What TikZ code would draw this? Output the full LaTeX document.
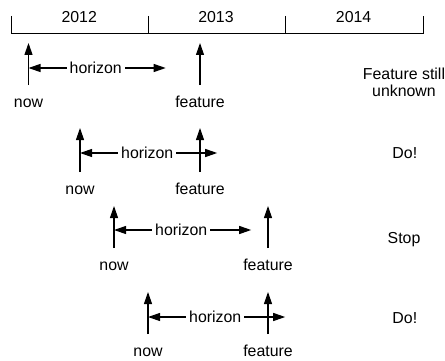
\documentclass[tikz,border=0pt]{standalone}
\usepackage{fontspec}
\setmainfont{Liberation Sans}
\usetikzlibrary{arrows.meta}

\tikzset{
  uptip/.style={-{Triangle[length=3mm,width=2mm]}, line width=0.8pt},
  horizonspan/.style={{Triangle[length=3mm,width=2mm]}-{Triangle[length=3mm,width=2mm]}, line width=0.8pt},
  tag/.style={anchor=base, inner sep=0pt, text height=8pt, outer ysep=7.6pt},
  horizontext/.style={fill=white, inner xsep=2pt, inner ysep=1pt, pos=0.49},
  verdict/.style={align=center, font=\fontsize{11.3}{12.1}\selectfont}
}

\begin{document}
\begin{tikzpicture}[font=\fontsize{11.3}{13.6}\selectfont]
  \useasboundingbox (0,0) rectangle (11.125,9);
  % years
  \draw[line width=0.7pt] (0.29,8.6) -- (0.29,8.175) -- (10.58,8.175) -- (10.58,8.6);
  \draw[line width=0.7pt] (3.71,8.6) -- (3.71,8.175);
  \draw[line width=0.7pt] (7.14,8.6) -- (7.14,8.175);
  \node (y2012) at (1.98,8.5625) {2012};
  \node (y2013) at (5.40,8.5625) {2013};
  \node (y2014) at (8.84,8.5625) {2014};

  % feature still unknown
  \node[tag] (now1) at (0.7125,6.325) {now};
  \node[tag] (feat1) at (5.0,6.325) {feature};
  \coordinate (now1t) at (0.7125,7.925);
  \coordinate (feat1t) at (5.0,7.925);
  \coordinate (hs1) at (0.7125,7.3);
  \coordinate (he1) at (4.1425,7.3);
  \draw[horizonspan] (hs1) -- node[horizontext] (hz1) {horizon} (he1);
  \draw[uptip] (now1) -- (now1t);
  \draw[uptip] (feat1) -- (feat1t);
  \node[verdict] (v1) at (10.1,6.95) {Feature still\\unknown};

  % do
  \node[tag] (now2) at (2.0,4.15) {now};
  \node[tag] (feat2) at (5.0,4.15) {feature};
  \coordinate (now2t) at (2.0,5.8);
  \coordinate (feat2t) at (5.0,5.8);
  \coordinate (hs2) at (2.0,5.175);
  \coordinate (he2) at (5.43,5.175);
  \draw[horizonspan] (hs2) -- node[horizontext] (hz2) {horizon} (he2);
  \draw[uptip] (now2) -- (now2t);
  \draw[uptip] (feat2) -- (feat2t);
  \node[verdict] (v2) at (10.12,5.16) {Do!};

  % stop
  \node[tag] (now3) at (2.85,2.25) {now};
  \node[tag] (feat3) at (6.7,2.25) {feature};
  \coordinate (now3t) at (2.85,3.85);
  \coordinate (feat3t) at (6.7,3.85);
  \coordinate (hs3) at (2.85,3.25);
  \coordinate (he3) at (6.28,3.25);
  \draw[horizonspan] (hs3) -- node[horizontext] (hz3) {horizon} (he3);
  \draw[uptip] (now3) -- (now3t);
  \draw[uptip] (feat3) -- (feat3t);
  \node[verdict] (v3) at (10.1,3.0) {Stop};

  % do
  \node[tag] (now4) at (3.7,0.1) {now};
  \node[tag] (feat4) at (6.7,0.1) {feature};
  \coordinate (now4t) at (3.7,1.7);
  \coordinate (feat4t) at (6.7,1.7);
  \coordinate (hs4) at (3.7,1.075);
  \coordinate (he4) at (7.13,1.075);
  \draw[horizonspan] (hs4) -- node[horizontext] (hz4) {horizon} (he4);
  \draw[uptip] (now4) -- (now4t);
  \draw[uptip] (feat4) -- (feat4t);
  \node[verdict] (v4) at (10.12,1.05) {Do!};
\end{tikzpicture}
\end{document}
